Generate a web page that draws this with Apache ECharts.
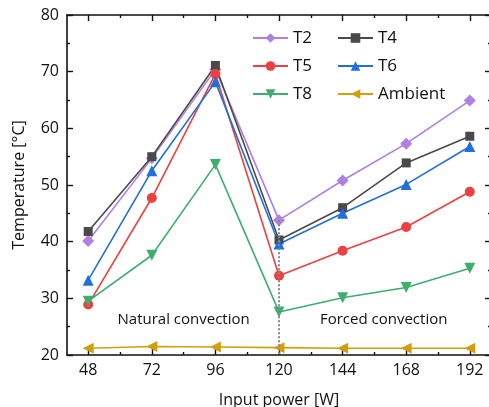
<!DOCTYPE html>
<html>
<head>
<meta charset="utf-8">
<script src="https://cdn.jsdelivr.net/npm/echarts@6/dist/echarts.min.js"></script>
<style>
  html, body { margin: 0; padding: 0; background: #fff; }
  #chart { width: 489px; height: 407px; }
</style>
</head>
<body>
<div id="chart"></div>
<script>
// input power [W]
const powers = [48, 72, 96, 120, 144, 168, 192];
const minorPowers = [60, 84, 108, 132, 156, 180];
// temperatures [°C]
const t2 = [40.1, 54.7, 70.4, 43.8, 50.8, 57.3, 64.9];
const t4 = [41.8, 55.0, 71.1, 40.3, 46.0, 53.9, 58.6];
const t5 = [28.9, 47.7, 69.6, 34.0, 38.4, 42.6, 48.8];
const t6 = [33.2, 52.5, 68.2, 39.6, 45.0, 50.1, 56.8];
const t8 = [29.5, 37.6, 53.6, 27.6, 30.1, 31.9, 35.3];
const ambient = [21.2, 21.5, 21.4, 21.3, 21.2, 21.2, 21.2];

const font = '"Open Sans", sans-serif';
const ink = '#111';

function pts(arr) {
    return powers.map((p, i) => [p, arr[i]]);
}

function mkSeries(name, arr, color, symbol, size, rotate) {
    return {
        name: name,
        type: 'line',
        data: pts(arr),
        symbol: symbol,
        symbolSize: size,
        symbolRotate: rotate || 0,
        lineStyle: { color: color, width: 1.6 },
        itemStyle: { color: color },
        animation: false
    };
}

function xAx(grid, pos, ticks, len, withLine) {
    return {
        type: 'value',
        gridIndex: grid,
        position: pos,
        min: 40,
        max: 200,
        splitLine: { show: false },
        axisLine: { show: withLine, lineStyle: { color: ink, width: 1.6 } },
        axisTick: { show: true, inside: true, length: len, customValues: ticks, lineStyle: { color: ink, width: 1.4 } },
        axisLabel: { show: false }
    };
}

function yAx(grid, pos, visible) {
    return {
        type: 'value',
        gridIndex: grid,
        position: pos,
        min: 20, max: 80, interval: 10,
        show: visible,
        splitLine: { show: false },
        axisLine: { show: true, lineStyle: { color: ink, width: 1.6 } },
        axisTick: { show: true, inside: true, length: 6, lineStyle: { color: ink, width: 1.4 } },
        minorTick: { show: true, splitNumber: 2, length: 3, lineStyle: { color: ink, width: 1.4 } },
        axisLabel: { show: false }
    };
}

const chart = echarts.init(document.getElementById('chart'));

const gridBox = { left: 67, right: -2, top: 15, bottom: 52, outerBoundsMode: 'none', containLabel: false };

const xMain = xAx(0, 'bottom', powers, 6, true);
xMain.name = 'Input power [W]';
xMain.nameLocation = 'middle';
xMain.nameGap = 37;
xMain.nameTextStyle = { fontSize: 16, color: ink, fontFamily: font };
xMain.axisLabel = { show: true, customValues: powers, fontSize: 16, color: ink, margin: 7, fontFamily: font };

const yMain = yAx(0, 'left', true);
yMain.name = 'Temperature [°C]';
yMain.nameLocation = 'middle';
yMain.nameGap = 40;
yMain.nameTextStyle = { fontSize: 16, color: ink, fontFamily: font };
yMain.axisLabel = { show: true, fontSize: 16, color: ink, margin: 8, fontFamily: font };

const legendText = { fontSize: 17, color: ink, lineHeight: 20, fontFamily: font };

const option = {
    textStyle: { fontFamily: font },
    grid: [Object.assign({}, gridBox), Object.assign({}, gridBox)],
    legend: [
        {
            orient: 'vertical',
            left: 252, top: 28, padding: 0,
            itemWidth: 35, itemHeight: 12, itemGap: 8,
            data: ['T2', 'T5', 'T8'],
            textStyle: legendText
        },
        {
            orient: 'vertical',
            left: 337, top: 28, padding: 0,
            itemWidth: 35, itemHeight: 12, itemGap: 8,
            data: ['T4', 'T6', 'Ambient'],
            textStyle: legendText
        }
    ],
    xAxis: [
        xMain,
        xAx(0, 'top', powers, 6, true),
        xAx(1, 'bottom', minorPowers, 3, false),
        xAx(1, 'top', minorPowers, 3, false)
    ],
    yAxis: [
        yMain,
        yAx(0, 'right', true),
        yAx(1, 'left', false)
    ],
    series: [
        Object.assign(mkSeries('T2', t2, '#B07FE3', 'diamond', 12), {
            markLine: {
                silent: true,
                symbol: 'none',
                label: { show: false },
                lineStyle: { color: '#888', type: 'dotted', width: 2 },
                data: [[{ coord: [powers[3], t2[3]] }, { coord: [powers[3], 20] }]]
            }
        }),
        mkSeries('T4', t4, '#4A4A4A', 'rect', 9),
        mkSeries('T5', t5, '#EE4040', 'circle', 10),
        mkSeries('T6', t6, '#1F6FDE', 'triangle', 11),
        mkSeries('T8', t8, '#3DAE6E', 'triangle', 11, 180),
        Object.assign(mkSeries('Ambient', ambient, '#D29E0E', 'triangle', 11, 90), {
            markPoint: {
                silent: true,
                symbol: 'circle',
                symbolSize: 1,
                itemStyle: { color: 'rgba(0,0,0,0)' },
                label: { show: true, position: 'inside', fontSize: 15, color: ink, fontFamily: font },
                data: [
                    { coord: [84, 26.3], label: { formatter: 'Natural convection' } },
                    { coord: [159.5, 26.3], label: { formatter: 'Forced convection' } }
                ]
            }
        })
    ]
};

chart.setOption(option);
</script>
</body>
</html>
